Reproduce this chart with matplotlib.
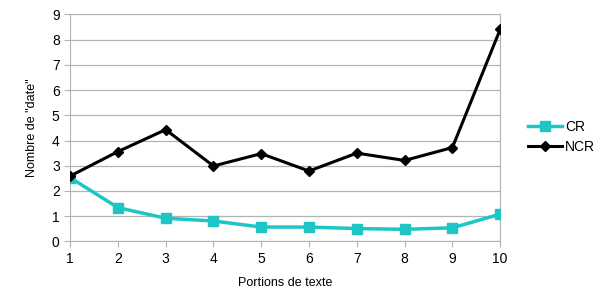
import matplotlib.pyplot as plt

plt.rcParams['font.family'] = ['Liberation Sans', 'DejaVu Sans']

portions = [1, 2, 3, 4, 5, 6, 7, 8, 9, 10]
cr = [2.53, 1.34, 0.92, 0.81, 0.57, 0.57, 0.51, 0.48, 0.54, 1.08]
ncr = [2.59, 3.56, 4.43, 2.99, 3.48, 2.79, 3.50, 3.21, 3.72, 8.40]

fig = plt.figure(figsize=(5.94, 2.93), dpi=100)
ax = fig.add_axes([0.118, 0.176, 0.724, 0.775])

ax.plot(portions, cr, color='#1ec5c5', marker='s', markersize=7, linewidth=2.5, label='CR', zorder=3)
ax.plot(portions, ncr, color='black', marker='D', markersize=5.5, linewidth=2.2, label='NCR', zorder=4)

ax.set_xlim(1, 10)
ax.set_ylim(0, 9)
ax.set_xticks(portions)
ax.set_yticks(range(0, 10))
ax.grid(axis='y', color='#b3b3b3', linewidth=0.9)
ax.set_axisbelow(True)
for s in ['left', 'right', 'bottom']:
    ax.spines[s].set_color('#b3b3b3')
ax.spines['top'].set_visible(False)
ax.tick_params(colors='#b3b3b3', labelcolor='black', labelsize=10, length=4)
ax.set_xlabel('Portions de texte', fontsize=9, labelpad=8)
ax.set_ylabel('Nombre de "date"', fontsize=9, labelpad=10)

ax.legend(loc='center left', bbox_to_anchor=(1.035, 0.46), frameon=False, fontsize=10,
          handlelength=2.5, handletextpad=0.2, labelspacing=0.4)

fig.savefig('out.png')
